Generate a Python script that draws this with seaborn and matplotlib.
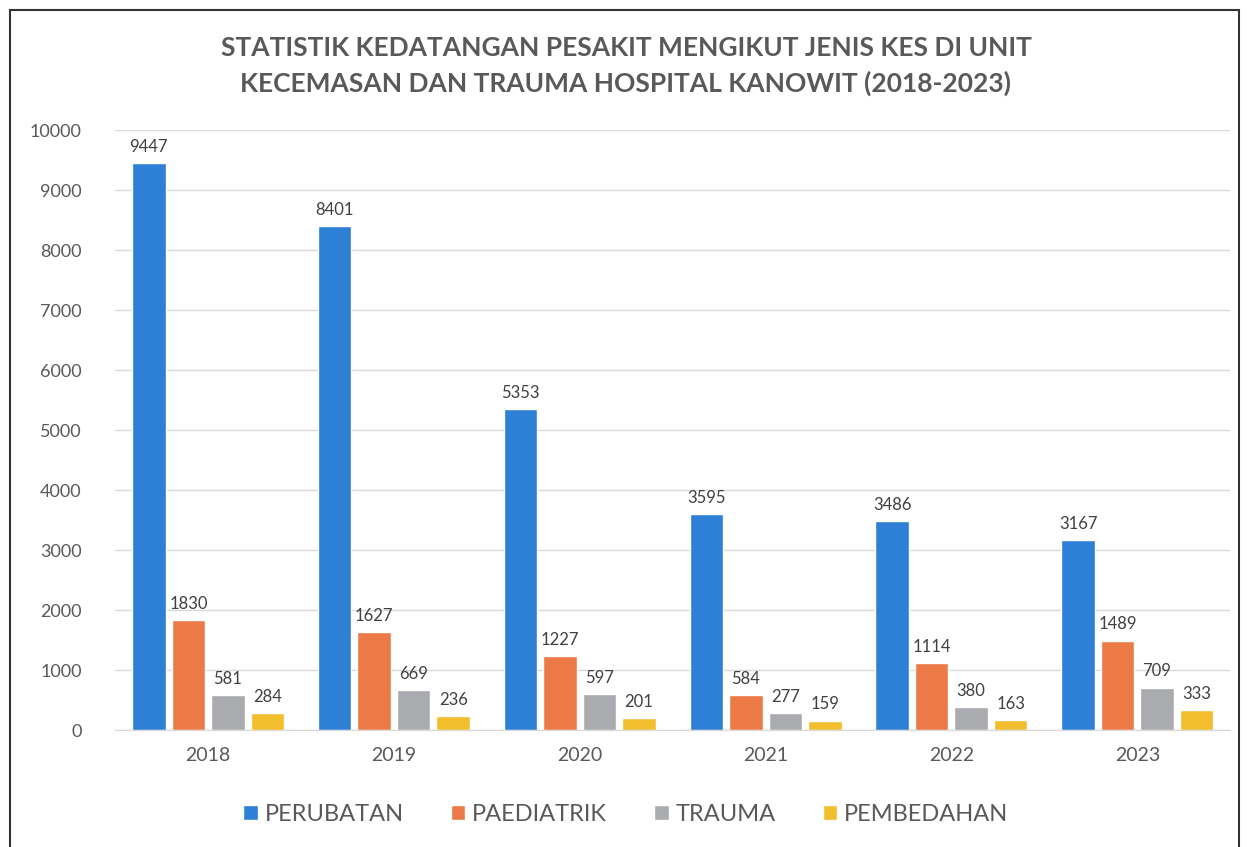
import pandas as pd
import numpy as np
import seaborn as sns
import matplotlib.pyplot as plt
from matplotlib.patches import Rectangle

# data
years = ['2018', '2019', '2020', '2021', '2022', '2023']
kes = ['PERUBATAN', 'PAEDIATRIK', 'TRAUMA', 'PEMBEDAHAN']
perubatan = [9447, 8401, 5353, 3595, 3486, 3167]
paediatrik = [1830, 1627, 1227, 584, 1114, 1489]
trauma = [581, 669, 597, 277, 380, 709]
pembedahan = [284, 236, 201, 159, 163, 333]

colours = ['#2E7FD6', '#EB7A47', '#A9ABAE', '#F2BE2E']

#%%
df = pd.DataFrame({'Tahun': years * 4,
                   'Kes': np.repeat(kes, len(years)),
                   'Jumlah': perubatan + paediatrik + trauma + pembedahan})

sns.set_style('white')
plt.rcParams['font.family'] = ['Lato', 'DejaVu Sans']

fig = plt.figure(figsize=(12.52, 8.47), dpi=100)
ax = fig.add_axes([0.092, 0.138, 0.8906, 0.7085])

sns.barplot(data=df, x='Tahun', y='Jumlah', hue='Kes', palette=colours,
            width=0.85, gap=0.15, saturation=1, ax=ax)

for cont in ax.containers:
    ax.bar_label(cont, padding=6, fontsize=12, color='#404040')

ax.set_ylim(0, 10000)
ax.set_yticks(range(0, 10001, 1000))
ax.yaxis.grid(True, color='#D9D9D9', linewidth=1)
ax.set_axisbelow(True)
for s in ['top', 'right', 'left']:
    ax.spines[s].set_visible(False)
ax.spines['bottom'].set_color('#D9D9D9')
ax.tick_params(axis='y', length=0, pad=24, labelsize=13, labelcolor='#595959')
ax.tick_params(axis='x', length=0, pad=12, labelsize=14, labelcolor='#595959')
ax.set_xlabel('')
ax.set_ylabel('')

ax.legend(loc='center', bbox_to_anchor=(0.5, 0.038), bbox_transform=fig.transFigure,
          ncol=4, frameon=False, fontsize=17, handlelength=0.6, handleheight=0.6,
          columnspacing=2.0, handletextpad=0.3, labelcolor='#595959')

fig.text(0.5, 0.922, 'STATISTIK KEDATANGAN PESAKIT MENGIKUT JENIS KES DI UNIT\n'
         'KECEMASAN DAN TRAUMA HOSPITAL KANOWIT (2018-2023)',
         ha='center', va='center', fontsize=19, fontweight='bold',
         color='#595959', linespacing=1.5)

# outer frame of the chart
fig.patches.append(Rectangle((0.008, -0.01), 0.982, 0.998, transform=fig.transFigure,
                             fill=False, edgecolor='#333333', linewidth=1.5))

plt.savefig('out.png', dpi=100)
